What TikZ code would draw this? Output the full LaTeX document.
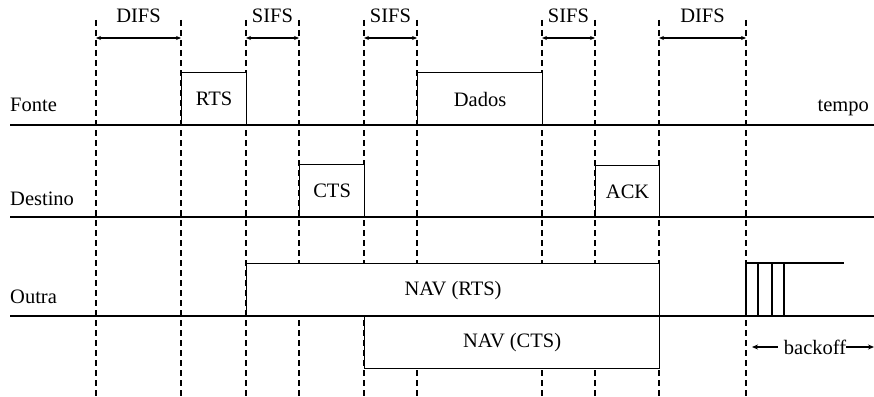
\documentclass[tikz,border=0pt]{standalone}
\usepackage{fontspec}
\setmainfont{Liberation Serif}
\usetikzlibrary{arrows.meta}
\begin{document}
\begin{tikzpicture}[x=1pt,y=-1pt,
  every node/.style={font=\fontsize{20.5}{24}\selectfont, inner sep=0pt},
  guide/.style={dash pattern=on 6pt off 4pt, line width=1.2pt},
  axis/.style={line width=1.4pt},
  frame/.style={draw, fill=white, line width=1.2pt, anchor=north west},
  span/.style={{Stealth[length=5pt,width=4pt]}-{Stealth[length=5pt,width=4pt]}, line width=1.2pt},
  onearrow/.style={-{Stealth[length=6pt,width=5pt]}, line width=1.2pt},
]
\useasboundingbox (0,0) rectangle (874,396);
% vertical dashed guides
\foreach \n/\x in {g1/96,g2/181,g3/246,g4/299,g5/364,g6/417,g7/542,g8/595,g9/659,g10/746}{
  \coordinate (\n t) at (\x,20);
  \coordinate (\n b) at (\x,396);
  \coordinate (\n s) at (\x,38);
  \draw[guide] (\n t) -- (\n b);
}
% interval spans
\draw[span] (g1s) -- (g2s);
\draw[span] (g3s) -- (g4s);
\draw[span] (g5s) -- (g6s);
\draw[span] (g7s) -- (g8s);
\draw[span] (g9s) -- (g10s);
\node (difsa) at (138.5,16) {DIFS};
\node (sifsa) at (272.5,16) {SIFS};
\node (sifsb) at (390.5,16) {SIFS};
\node (sifsc) at (568.5,16) {SIFS};
\node (difsb) at (702.5,16) {DIFS};
% frames
\node[frame, minimum width=65pt, minimum height=53pt] (rts) at (181,72) {RTS};
\node[frame, minimum width=125pt, minimum height=53pt] (dados) at (417,72) {Dados};
\node[frame, minimum width=65pt, minimum height=53pt] (cts) at (299,164) {CTS};
\node[frame, minimum width=64pt, minimum height=52pt] (ack) at (595,165) {ACK};
\node[frame, minimum width=413pt, minimum height=53pt] (navr) at (246,263) {NAV (RTS)};
\node[frame, minimum width=295pt, minimum height=52pt] (navc) at (364,316) {NAV (CTS)};
% backoff slots
\coordinate (k0b) at (746,316);
\coordinate (k0t) at (746,263);
\coordinate (k4t) at (844,263);
\coordinate (k1t) at (758,263);
\coordinate (k1b) at (758,316);
\coordinate (k2t) at (772,263);
\coordinate (k2b) at (772,316);
\coordinate (k3t) at (784,263);
\coordinate (k3b) at (784,316);
\draw[axis] (k0b) -- (k0t) -- (k4t);
\draw[axis] (k1t) -- (k1b);
\draw[axis] (k2t) -- (k2b);
\draw[axis] (k3t) -- (k3b);
% axes
\coordinate (fa) at (10,125);
\coordinate (fb) at (874,125);
\coordinate (da) at (10,217);
\coordinate (db) at (874,217);
\coordinate (oa) at (10,316);
\coordinate (ob) at (874,316);
\draw[axis] (fa) -- (fb);
\draw[axis] (da) -- (db);
\draw[axis] (oa) -- (ob);
% row labels
\node[anchor=base west] (fonte) at (10,111) {Fonte};
\node[anchor=base west] (destino) at (10,205) {Destino};
\node[anchor=base west] (outra) at (10,303) {Outra};
\node[anchor=base east] (tempo) at (869,111) {tempo};
% backoff label
\node (bo) at (815,347) {backoff};
\coordinate (bl) at (752,347);
\coordinate (br) at (874,347);
\draw[onearrow] ([xshift=-6pt]bo.west) -- (bl);
\draw[onearrow] (bo.east) -- (br);
\end{tikzpicture}
\end{document}
